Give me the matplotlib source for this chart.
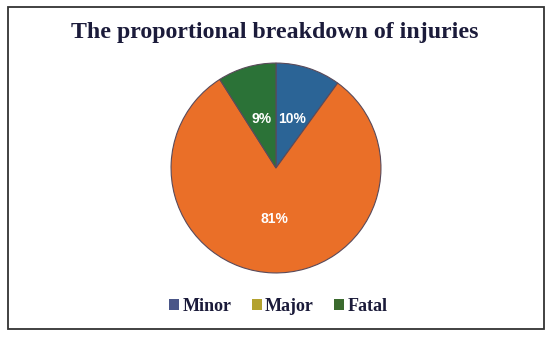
import matplotlib.pyplot as plt
from matplotlib.patches import Rectangle, Patch

categories = ['Minor', 'Major', 'Fatal']
shares = [10, 81, 9]
pie_colors = ['#2B6496', '#EA6F28', '#2B7237']
legend_colors = ['#4A5688', '#B3A22F', '#3B6A2E']

fig = plt.figure(figsize=(5.5, 3.39), dpi=100)

# outer frame
fig.patches.append(Rectangle((7.5 / 550, 10 / 339), 536.5 / 550, 322 / 339,
                             transform=fig.transFigure, fill=False,
                             edgecolor='#333333', linewidth=1.3))

fig.text(0.5, 1 - 38 / 339, 'The proportional breakdown of injuries', ha='center', va='baseline',
         fontsize=17.2, fontweight='bold', family='Liberation Serif', color='#1B1B3A')

ax = fig.add_axes([(276 - 106) / 550, 1 - (168 + 106) / 339, 212 / 550, 212 / 339])
wedges, texts, autotexts = ax.pie(shares, colors=pie_colors, startangle=90, counterclock=False,
                                  autopct='%1.0f%%', pctdistance=0.49,
                                  wedgeprops=dict(edgecolor='#5A4A5A', linewidth=0.8),
                                  textprops=dict(color='white', fontweight='bold', fontsize=10,
                                                 family='Liberation Sans'))
ax.set_xlim(-1.01, 1.01)
ax.set_ylim(-1.01, 1.01)
ax.set_aspect('equal')

handles = [Patch(facecolor=c, edgecolor='none') for c in legend_colors]
fig.legend(handles, categories, loc='center', bbox_to_anchor=(0.506, 0.097), ncol=3, frameon=False,
           prop=dict(family='Liberation Serif', weight='bold', size=13),
           handlelength=0.55, handleheight=0.55, handletextpad=0.2, columnspacing=1.1,
           labelcolor='#1B1B3A')

plt.savefig('out.png', dpi=100)
